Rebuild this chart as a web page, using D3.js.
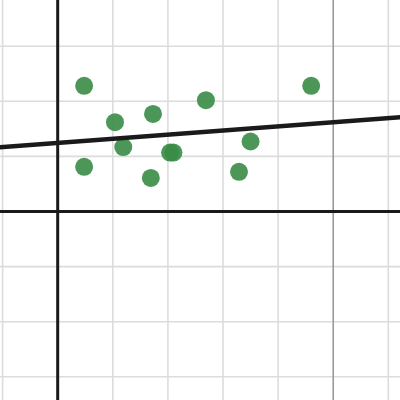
<!DOCTYPE html>
<html>
<head>
<meta charset="utf-8">
<script src="https://cdn.jsdelivr.net/npm/d3@7"></script>
<style>
  body { margin: 0; background: #fff; }
  svg { display: block; }
</style>
</head>
<body>
<svg width="400" height="400"></svg>
<script>
// scatter points
const ptX = [0.48, 1.04, 1.73, 1.19, 2.04, 2.10, 0.48, 1.69, 2.69, 4.60, 3.50, 3.29];
const ptY = [2.28, 1.62, 1.77, 1.17, 1.07, 1.07, 0.81, 0.61, 2.02, 2.28, 1.27, 0.72];

// fitted line ends
const lineX = [-1.05, 6.22];
const lineY = [1.165, 1.71];

const gridTicks = d3.range(-4, 7);
const majorTicks = [-5, 5];

const svg = d3.select("svg");
const width = 400, height = 400;

const x = d3.scaleLinear().domain([-1.047, 6.212]).range([0, width]);
const y = d3.scaleLinear().domain([-3.421, 3.838]).range([height, 0]);

// minor grid
const grid = svg.append("g");
grid.selectAll("line.v")
  .data(gridTicks.filter(d => d !== 0 && majorTicks.indexOf(d) === -1))
  .enter().append("line")
  .attr("x1", d => x(d)).attr("x2", d => x(d))
  .attr("y1", 0).attr("y2", height)
  .attr("stroke", "#dcdcdc").attr("stroke-width", 1.6);
grid.selectAll("line.h")
  .data(gridTicks.filter(d => d !== 0 && majorTicks.indexOf(d) === -1))
  .enter().append("line")
  .attr("y1", d => y(d)).attr("y2", d => y(d))
  .attr("x1", 0).attr("x2", width)
  .attr("stroke", "#dcdcdc").attr("stroke-width", 1.6);

// major grid
grid.selectAll("line.mv")
  .data(majorTicks)
  .enter().append("line")
  .attr("x1", d => x(d)).attr("x2", d => x(d))
  .attr("y1", 0).attr("y2", height)
  .attr("stroke", "#999").attr("stroke-width", 1.6);

// axes
svg.append("line")
  .attr("x1", x(0)).attr("x2", x(0)).attr("y1", 0).attr("y2", height)
  .attr("stroke", "#1a1a1a").attr("stroke-width", 3);
svg.append("line")
  .attr("y1", y(0)).attr("y2", y(0)).attr("x1", 0).attr("x2", width)
  .attr("stroke", "#1a1a1a").attr("stroke-width", 3);

// points
svg.append("g")
  .selectAll("circle")
  .data(ptX.map((d, i) => [d, ptY[i]]))
  .enter().append("circle")
  .attr("cx", d => x(d[0]))
  .attr("cy", d => y(d[1]))
  .attr("r", 9)
  .attr("fill", "#388c46")
  .attr("fill-opacity", 0.9);

// regression line
svg.append("line")
  .attr("x1", x(lineX[0])).attr("y1", y(lineY[0]))
  .attr("x2", x(lineX[1])).attr("y2", y(lineY[1]))
  .attr("stroke", "#1a1a1a").attr("stroke-width", 4.5);
</script>
</body>
</html>
